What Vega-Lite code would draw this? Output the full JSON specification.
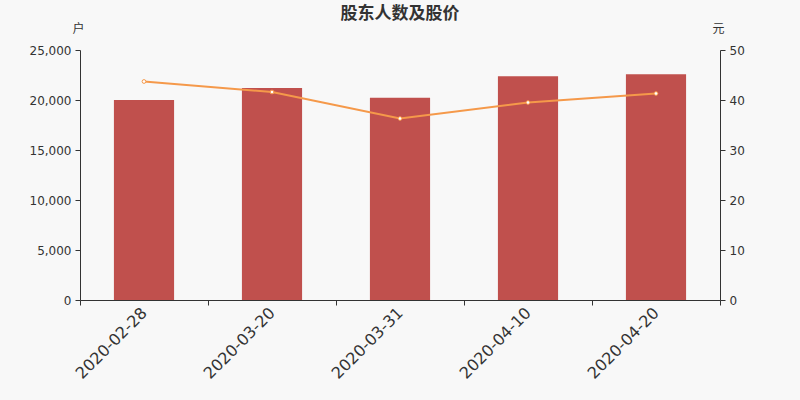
{
  "$schema": "https://vega.github.io/schema/vega-lite/v6.json",
  "autosize": "none",
  "width": 640,
  "height": 250,
  "padding": {"left": 80, "top": 50, "right": 80, "bottom": 100},
  "background": "#f8f8f8",
  "title": {
    "text": "股东人数及股价",
    "anchor": "middle",
    "frame": "group",
    "fontSize": 17,
    "fontWeight": "bold",
    "color": "#333333",
    "font": "Noto Sans CJK SC",
    "offset": 0,
    "dy": 1
  },
  "config": {
    "view": {"stroke": null},
    "axis": {
      "labelFont": "DejaVu Sans",
      "labelColor": "#333333",
      "domainColor": "#333333",
      "tickColor": "#333333",
      "grid": false,
      "titleFont": "Noto Sans CJK SC",
      "titleFontWeight": "normal",
      "titleFontSize": 12,
      "titleColor": "#333333"
    }
  },
  "data": {
    "values": [
      {"date": "2020-02-28", "holders": 20000, "price": 43.7},
      {"date": "2020-03-20", "holders": 21200, "price": 41.6},
      {"date": "2020-03-31", "holders": 20230, "price": 36.3},
      {"date": "2020-04-10", "holders": 22370, "price": 39.5},
      {"date": "2020-04-20", "holders": 22570, "price": 41.3}
    ]
  },
  "encoding": {
    "x": {
      "field": "date",
      "type": "nominal",
      "sort": null,
      "scale": {"paddingInner": 0, "paddingOuter": 0},
      "axis": {
        "title": null,
        "labelAngle": -45,
        "labelAlign": "right",
        "labelBaseline": "middle",
        "labelFontSize": 16,
        "labelPadding": 5,
        "tickBand": "extent",
        "tickSize": 5
      }
    }
  },
  "layer": [
    {
      "mark": {"type": "bar", "color": "#c0504d", "width": {"band": 0.47}},
      "encoding": {
        "y": {
          "field": "holders",
          "type": "quantitative",
          "scale": {"domain": [0, 25000]},
          "axis": {
            "title": "户",
            "titleAngle": 0,
            "titleX": -2,
            "titleY": -22,
            "titleAlign": "center",
            "titleBaseline": "middle",
            "format": ",.0f",
            "values": [0, 5000, 10000, 15000, 20000, 25000],
            "labelFontSize": 12,
            "tickSize": 5,
            "labelPadding": 4
          }
        }
      }
    },
    {
      "mark": {
        "type": "line",
        "color": "#f5994a",
        "strokeWidth": 2,
        "point": {"filled": true, "fill": "#ffffff", "stroke": "#f5994a", "strokeWidth": 1, "size": 14}
      },
      "encoding": {
        "y": {
          "field": "price",
          "type": "quantitative",
          "scale": {"domain": [0, 50]},
          "axis": {
            "orient": "right",
            "title": "元",
            "titleAngle": 0,
            "titleX": -2,
            "titleY": -22,
            "titleAlign": "center",
            "titleBaseline": "middle",
            "values": [0, 10, 20, 30, 40, 50],
            "labelFontSize": 12,
            "tickSize": 5,
            "labelPadding": 4
          }
        }
      }
    }
  ],
  "resolve": {"scale": {"y": "independent"}}
}
